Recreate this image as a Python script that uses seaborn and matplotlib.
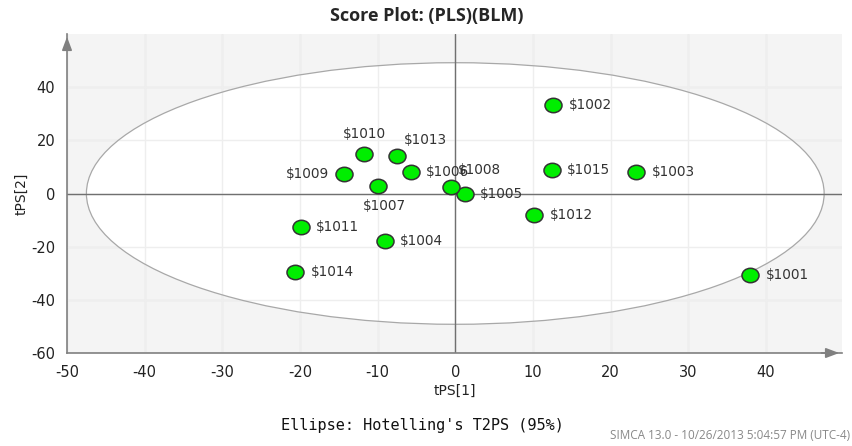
import matplotlib
matplotlib.use("Agg")
import matplotlib.pyplot as plt
import seaborn as sns
import pandas as pd
import numpy as np
from matplotlib.patches import Ellipse
from matplotlib.path import Path
from matplotlib.ticker import MultipleLocator

names = ["$1001", "$1002", "$1003", "$1004", "$1005", "$1006", "$1007", "$1008",
         "$1009", "$1010", "$1011", "$1012", "$1013", "$1014", "$1015"]
t1 = [38.0, 12.6, 23.3, -9.1, 1.2, -5.7, -10.0, -0.5, -14.3, -11.7, -19.9, 10.2, -7.5, -20.6, 12.4]
t2 = [-30.6, 33.2, 7.9, -17.7, 0.0, 7.9, 3.0, 2.6, 7.2, 14.7, -12.5, -7.9, 14.0, -29.4, 8.7]
# label placement: r=right, l=left, a=above, b=below, ar=above-right
label_pos = ["r", "r", "r", "r", "r", "r", "b", "ar", "l", "a", "r", "r", "ar", "r", "r"]
ellipse_a, ellipse_b = 47.5, 49.2

df = pd.DataFrame({"tPS[1]": t1, "tPS[2]": t2, "name": names})

sns.set_style("white")
plt.rcParams["font.family"] = ["DejaVu Sans"]
plt.rcParams["axes.unicode_minus"] = False

fig = plt.figure(figsize=(8.53, 4.46), dpi=100)
ax = fig.add_axes([67/853, 1-353/446, (842-67)/853, (353-34)/446])
ax.set_facecolor("#f4f4f4")
ax.set_xlim(-50, 49.8)
ax.set_ylim(-60, 60)

ax.xaxis.set_major_locator(MultipleLocator(10))
ax.xaxis.set_minor_locator(MultipleLocator(5))
ax.yaxis.set_major_locator(MultipleLocator(20))
ax.yaxis.set_minor_locator(MultipleLocator(4))
ax.grid(True, which="major", color="#e2e2e2", lw=1, zorder=0)
ax.set_axisbelow(True)

ell = Ellipse((0, 0), 2*ellipse_a, 2*ellipse_b, facecolor="white", edgecolor="none", zorder=1)
ax.add_patch(ell)
for v in range(-40, 50, 10):
    ax.axvline(v, color="#eeeeee", lw=1, zorder=1.1)
for v in range(-40, 60, 20):
    ax.axhline(v, color="#eeeeee", lw=1, zorder=1.1)
ell2 = Ellipse((0, 0), 2*ellipse_a, 2*ellipse_b, facecolor="none", edgecolor="#a8a8a8", lw=0.9, zorder=1.2)
ax.add_patch(ell2)

ax.axvline(0, color="#707070", lw=1, zorder=1.5)
ax.axhline(0, color="#707070", lw=1, zorder=1.5)

circ = Path.unit_circle()
oval = Path(circ.vertices * np.array([1.18, 1.0]), circ.codes)

sns.scatterplot(data=df, x="tPS[1]", y="tPS[2]", ax=ax, s=150, color="#00ee00", marker=oval,
                edgecolor="#333333", linewidth=1.1, zorder=3, legend=False)

fs = 9.8
for x, y, n, p in zip(t1, t2, names, label_pos):
    kw = dict(textcoords="offset points", fontsize=fs, color="#333333", zorder=4)
    if p == "r":
        ax.annotate(n, (x, y), xytext=(11, 0), ha="left", va="center", **kw)
    elif p == "l":
        ax.annotate(n, (x, y), xytext=(-11, 0), ha="right", va="center", **kw)
    elif p == "a":
        ax.annotate(n, (x, y), xytext=(0, 10), ha="center", va="bottom", **kw)
    elif p == "b":
        ax.annotate(n, (x, y), xytext=(5, -10), ha="center", va="top", **kw)
    elif p == "ar":
        ax.annotate(n, (x, y), xytext=(5, 7), ha="left", va="bottom", **kw)

for s in ["top", "right"]:
    ax.spines[s].set_visible(False)
for s in ["left", "bottom"]:
    ax.spines[s].set_color("#808080")
    ax.spines[s].set_linewidth(1.2)

ax.tick_params(axis="both", which="major", length=5, color="#808080", labelsize=10.5, labelcolor="#222222", direction="out")
ax.tick_params(axis="both", which="minor", length=3, color="#808080", direction="out")
ax.set_xticks(range(-50, 50, 10))
ax.set_yticks(range(-60, 60, 20))

ax.annotate("", xy=(1.0, 0), xycoords="axes fraction", xytext=(0.97, 0),
            arrowprops=dict(arrowstyle="-|>,head_length=0.8,head_width=0.3", color="#808080", lw=1.2))
ax.annotate("", xy=(0, 1.0), xycoords="axes fraction", xytext=(0, 0.95),
            arrowprops=dict(arrowstyle="-|>,head_length=0.8,head_width=0.3", color="#808080", lw=1.2))

ax.set_xlabel("tPS[1]", fontsize=10, color="#222222", labelpad=3)
ax.set_ylabel("tPS[2]", fontsize=10, color="#222222", labelpad=2)

fig.text(0.5, 0.985, "Score Plot: (PLS)(BLM)", ha="center", va="top", fontsize=13,
         fontweight="bold", family=["Open Sans", "DejaVu Sans"])
fig.text(0.495, 0.045, "Ellipse: Hotelling's T2PS (95%)", ha="center", va="center",
         fontsize=11, family=["DejaVu Sans Mono"], color="#111111")
fig.text(0.997, 0.008, "SIMCA 13.0 - 10/26/2013 5:04:57 PM (UTC-4)", ha="right", va="bottom",
         fontsize=8.5, color="#888888", family=["Open Sans", "DejaVu Sans"])

fig.savefig("out.png", dpi=100)
